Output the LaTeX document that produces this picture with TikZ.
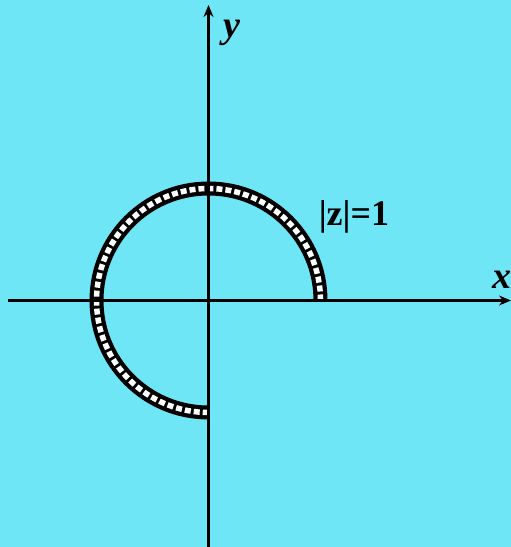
\documentclass[tikz,border=0pt]{standalone}
\usepackage{fontspec}
\setmainfont{Liberation Serif}
\usetikzlibrary{arrows.meta}
\definecolor{bgcyan}{RGB}{111,230,245}
\begin{document}
\begin{tikzpicture}[x=1pt,y=1pt,
  axis/.style={line width=2.8pt,-{Stealth[length=12pt,width=10pt]}},
  bandouter/.style={line width=14pt,black},
  bandinner/.style={line width=5.5pt,white,dash pattern=on 6pt off 3pt},
  lbl/.style={inner sep=0pt,font=\bfseries\itshape\fontsize{38}{38}\selectfont}]
\fill[bgcyan] (0,0) rectangle (511,547);
\useasboundingbox (0,0) rectangle (511,547);
\coordinate (O) at (208.5,246.5);
\coordinate (xs) at (8,246.5);
\coordinate (xe) at (511,246.5);
\coordinate (ys) at (208.5,0);
\coordinate (ye) at (208.5,542);
\coordinate (A) at (320.5,246.5);
\draw[bandouter] (A) arc[start angle=0,end angle=270,radius=112];
\draw[bandinner] (A) arc[start angle=0,end angle=270,radius=112];
\draw[axis] (xs) -- (xe);
\draw[axis] (ys) -- (ye);
\node[lbl] (ylab) at (232,514) {y};
\node[lbl,anchor=west] (xlab) at (492,267) {x};
\node[inner sep=0pt,font=\bfseries\fontsize{36}{36}\selectfont] (zlab) at (354,330) {|z|=1};
\end{tikzpicture}
\end{document}
